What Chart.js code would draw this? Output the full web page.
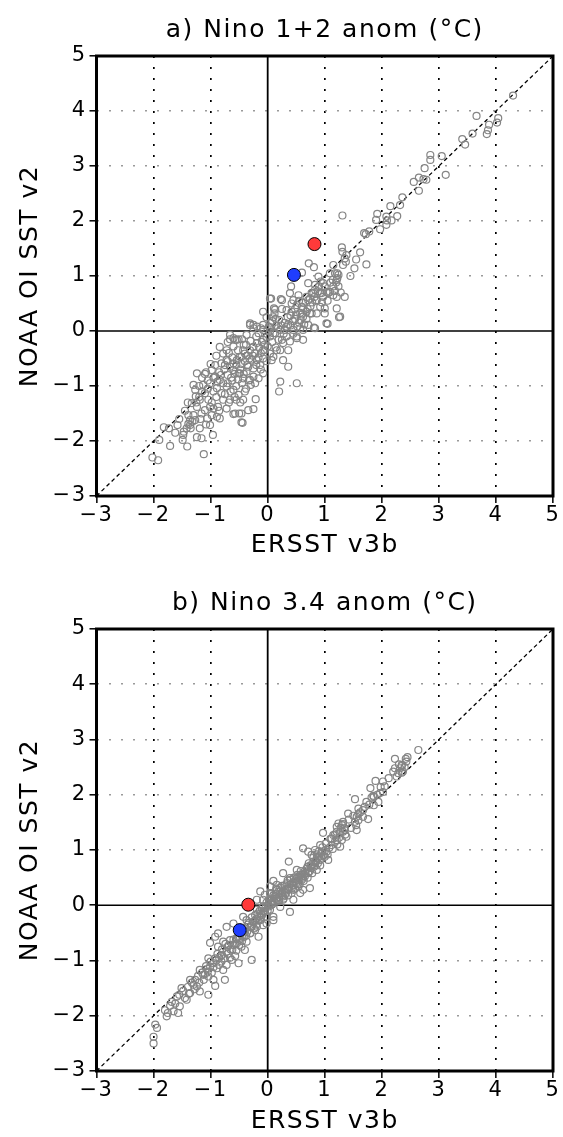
<!DOCTYPE html>
<html>
  <head>
    <title>Nino anomalies: ERSST v3b vs NOAA OI SST v2</title>
    <style>
      html, body{ margin: 0; padding: 0; background-color: #ffffff; }
      .page{ position: relative; width: 563px; height: 1137px; }
      canvas{ position: absolute; left: 0; }
    </style>
    <script src="https://cdn.jsdelivr.net/npm/chart.js"></script>
  </head>
  <body>
    <div class="page">
      <canvas id="chartA" width="563" height="573" style="top:0px"></canvas>
      <canvas id="chartB" width="563" height="564" style="top:573px"></canvas>
    </div>

    <script>
      // axis ticks (both panels)
      const tickValues = [-3, -2, -1, 0, 1, 2, 3, 4, 5];

      // a) Nino 1+2 monthly anomalies, ERSST v3b (x) vs NOAA OI SST v2 (y)
      const nino12Ersst = [
        4.30, 3.66, 4.04, 4.02, 3.88, 3.84, 3.86, 3.59, 3.41, 3.46, 2.85, 2.85, 3.05, 2.75, 3.12, 2.65, 2.73, 2.78, 2.56, 2.65,
        2.36, 2.32, 2.15, 1.92, 1.90, 2.08, 2.09, 2.08, 2.17, 2.27, 1.97, 1.31, 1.69, 1.78, 1.62, 1.73, 1.52, 1.30, 1.31, 1.38,
        1.35, 1.15, 1.32, 1.37, 0.72, 0.81, 0.60, 1.18, 1.22, 1.14, 1.20, 1.22, 0.89, 0.93, 0.83, 0.90, 1.00, 1.03, 1.18, 1.15,
        1.35, 0.80, 0.68, 1.72, 0.41, 0.39, 0.54, 0.23, 0.06, 0.45, 0.51, 0.62, -0.08, 0.13, 0.12, 0.33, 0.42, 0.57, 0.68, 0.77,
        0.86, 1.00, 1.00, 1.05, 1.21, 1.25, 1.21, 0.81, 0.36, 0.97, 1.09, 1.24, 1.06, 0.97, 0.92, 0.83, 0.77, 0.71, 0.62, 0.04,
        0.42, 0.60, 0.71, 0.74, 0.86, 0.95, 1.09, 1.15, 1.21, 1.24, 1.27, 1.03, 0.83, 0.71, 0.62, 0.74, 0.92, -0.31, -0.25, -0.08,
        -0.16, -0.54, -0.60, -0.72, -0.84, 0.04, 0.10, 0.22, 0.33, 0.45, 0.57, 0.19, 0.27, 0.39, 0.51, 0.62, 0.36, 0.22, 0.10, 0.07,
        -0.08, -0.25, -0.43, -0.49, -0.60, -0.72, -0.34, -0.19, -0.08, -0.25, -0.49, -2.02, -1.92, -1.71, -1.90, -1.82, -1.73, -1.58, -1.41, -1.49,
        -1.48, -1.47, -1.42, -1.36, -1.35, -1.39, -1.24, -1.30, -1.27, -1.26, -1.33, -1.24, -1.30, -1.39, -1.27, -1.36, -1.19, -1.24, -1.16, -1.12,
        -0.96, -1.01, -1.13, -1.10, -1.04, -1.01, -1.10, -1.19, -1.16, -1.06, -0.98, -0.89, -0.84, -0.98, -0.92, -0.84, -1.01, -0.89, -0.81, -0.72,
        -0.78, -0.87, -0.95, -0.72, -0.66, -0.60, -0.51, -0.57, -0.46, -0.43, -0.34, -0.25, -0.21, -0.46, -0.16, -0.31, -0.43, -0.51, -0.60, -0.66,
        -0.54, -0.46, -0.40, -0.31, -0.19, -0.08, 0.04, 0.13, -0.81, -0.78, -0.66, -0.37, -0.31, -0.19, -0.08, 0.04, 0.25, 0.51, 0.62, 0.22,
        0.20, 0.51, 0.27, 0.16, 0.04, -0.08, -0.13, -0.25, -0.37, -0.66, -0.57, -0.51, -0.25, 0.11, 0.25, -0.44, -0.60, -0.50, -0.70, -0.62,
        -0.55, -0.48, -0.40, -0.35, -0.28, -0.22, -0.15, -0.10, -0.05, -0.30, -0.20, -0.12, -0.42, -0.52, -0.60, -0.68, -0.75, -0.85, -0.92, -0.95,
        -1.05, -1.10, -0.78, -0.70, -0.62, -0.55, -0.45, -0.38, -0.30, -0.65, -0.58, -0.48, -0.90, -0.98, -1.15, -1.20, 0.30, 0.35, 0.20, 0.15,
        0.40, 0.48, 0.55, 0.28, 0.33, 0.45, 0.10, 0.05, -0.02, 0.60, 0.68, 0.75, 0.85, 0.55, 0.48, 0.25,
        -1.15, -1.05, -0.95, -0.88, -0.82, -0.76, -0.70, -0.64, -0.58, -0.52,
        -0.46, -0.42, -0.36, -0.32, -0.26, -0.20, -0.16, -0.12, -0.06, -0.02,
        0.02, 0.08, 0.14, 0.18, 0.24, 0.30, 0.36, 0.40, 0.44, 0.50,
        0.52, 0.58, 0.64, 0.70, 0.78, 0.82, 0.88, 0.95, 1.05, 1.10,
        1.28, 1.45, 1.55, -1.45, -1.55, -1.62, -1.40, -1.20, -1.25, -1.32,
        -1.18, -1.08, -0.85, -0.75, -0.68, -0.55, -0.40, -0.33, -0.22, -0.12,
        -0.02, 0.00, 0.08, 0.14, -0.45, -0.38, -0.70, -0.90, -1.00, -1.08
      ];
      const nino12Oi = [
        4.28, 3.91, 3.87, 3.79, 3.75, 3.58, 3.65, 3.59, 3.49, 3.39, 3.20, 3.11, 3.18, 2.96, 2.84, 2.79, 2.76, 2.75, 2.71, 2.55,
        2.43, 2.29, 2.27, 2.13, 2.02, 2.08, 2.01, 1.93, 2.01, 2.09, 1.85, 2.10, 1.78, 1.81, 1.43, 1.21, 1.14, 1.52, 1.44, 1.38,
        1.32, 1.20, 1.20, 1.26, 1.23, 1.16, 1.06, 1.05, 1.05, 0.93, 0.88, 0.96, 0.99, 0.90, 0.84, 0.81, 0.81, 0.71, 0.73, 0.65,
        0.62, 0.69, 0.62, 1.76, 0.81, 0.69, 0.65, 0.58, 0.59, 0.56, 0.47, 0.51, 0.35, 0.39, 0.32, 0.38, 0.35, 0.33, 0.35, 0.32,
        0.32, 0.41, 0.32, 0.13, 0.41, 0.25, 0.62, 0.06, -0.65, 0.87, 1.05, 0.81, 0.69, 0.62, 0.69, 0.75, 0.69, 0.56, 0.41, 0.59,
        0.50, 0.44, 0.87, 0.59, 0.56, 0.69, 0.71, 0.81, 0.93, 1.02, 0.26, 0.14, 0.05, 0.11, 0.26, 0.32, 0.44, 0.14, 0.05, 0.11,
        -0.04, -0.16, -0.13, -0.35, -0.29, 0.05, -0.04, 0.02, 0.08, 0.02, 0.05, -0.16, -0.22, -0.19, -0.13, -0.16, -0.35, -0.35, -0.47, -0.53,
        -0.35, -0.29, -0.35, -0.47, -0.59, -0.53, -0.65, -0.53, -0.77, -0.83, -0.77, -2.30, -2.35, -2.09, -1.98, -1.75, -1.77, -1.71, -2.10, -1.98,
        -1.89, -1.83, -1.77, -1.71, -1.77, -1.69, -0.77, -0.98, -1.07, -1.19, -1.31, -1.38, -1.53, -1.53, -1.62, -1.62, -1.77, -1.93, -1.95, -2.24,
        -1.89, -1.71, -0.98, -1.13, -1.25, -1.38, -1.44, -1.25, -1.50, -1.59, -1.53, -1.56, -1.59, -0.71, -0.83, -0.89, -0.95, -1.04, -1.13, -1.01,
        -1.25, -1.38, -1.41, -1.41, -1.25, -1.07, -1.16, -1.50, -1.50, -1.25, -1.44, -1.42, -1.24, -1.66, -0.86, -0.89, -0.86, -0.77, -0.71, -0.65,
        -0.53, -0.47, -0.41, -0.35, -0.22, -0.16, -0.10, -0.04, -0.59, -0.41, -0.15, -0.07, 0.11, 0.08, 0.02, -0.01, -0.16, -0.10, 0.02, -0.92,
        -1.10, -0.95, -0.53, -0.35, -0.41, -0.50, -0.62, -0.68, -0.74, -0.07, -0.16, -0.15, 0.11, 0.41, 0.56, -1.67, -1.51, -1.50, -0.55, -0.48,
        -0.62, -0.70, -0.55, -0.45, -0.52, -0.40, -0.30, -0.20, -0.35, -0.18, -0.10, 0.05, -0.25, -0.35, -0.28, -0.40, -0.62, -0.75, -0.62, -0.85,
        -0.90, -0.78, -0.95, -0.80, -0.90, -1.00, -0.95, -1.05, -0.98, -1.10, -1.20, -1.30, -1.20, -1.30, -1.10, -1.20, 0.15, 0.25, 0.20, 0.10,
        0.10, 0.22, 0.15, -0.05, -0.10, -0.05, 0.25, 0.15, 0.25, 0.30, 0.22, 0.45, 0.55, 0.55, 0.40, 0.40,
        -0.85, -1.05, -1.10, -0.92, -0.80, -0.70, -0.95, -0.85, -0.78, -0.88,
        -0.60, -0.78, -0.62, -0.50, -0.45, -0.62, -0.48, -0.40, -0.25, -0.12,
        0.08, 0.18, 0.22, 0.05, 0.10, 0.02, 0.12, 0.28, 0.18, 0.30,
        0.08, 0.20, 0.12, 0.40, 0.52, 0.62, 0.72, 0.52, 0.55, 0.88,
        0.70, 1.00, 1.30, -1.45, -1.60, -1.85, -1.30, -1.00, -1.30, -1.65,
        -1.60, -1.70, -1.45, -1.15, -1.30, -1.25, -1.10, -0.90, -0.95, -0.70,
        -0.55, -0.28, -0.20, -0.30, -0.15, -0.25, -0.20, -0.45, -0.60, -0.75
      ];
      // highlighted months: [red, blue]
      const nino12MarkX = [0.82, 0.46];
      const nino12MarkY = [1.58, 1.02];

      // b) Nino 3.4 monthly anomalies
      const nino34Ersst = [
        2.64, 2.23, 2.42, 2.35, 2.32, 2.23, 2.29, 2.26, 2.35, 1.89, 2.02, 1.80, 1.85, 1.97, 2.02, 1.94, 1.53, 1.73, 1.67, 1.59,
        1.56, 1.76, 1.41, 1.32, 1.24, 1.21, 1.32, 1.35, 1.27, 1.53, 1.59, 1.56, 1.12, 1.18, 1.30, 1.27, 2.35, 2.43, 2.37, 1.98,
        1.86, 1.86, 1.59, 1.67, 1.30, 1.35, 1.55, 1.21, 1.32, 1.38, 0.97, 1.15, 1.21, 1.12, 0.92, 1.03, 0.83, 0.62, 0.71, 0.77,
        0.86, 0.92, 1.00, 1.06, 0.83, 0.77, 0.86, 0.71, 0.65, 0.57, 0.51, 0.37, 0.27, 0.39, 0.48, 0.60, 0.54, 0.62, 0.74, 0.45,
        0.36, 0.25, 0.10, 0.16, 0.22, 0.04, 0.13, 0.19, -0.05, -0.08, -0.13, 0.07, 0.27, 0.39, 0.04, -0.02, 0.10, -0.13, -0.08, -0.19,
        0.04, 0.16, 0.27, 0.45, 0.57, 0.22, 0.10, -0.02, -0.22, -0.16, -0.31, -0.37, -0.46, -0.54, -0.66, -0.78, -0.92, -1.01, -0.87, -0.72,
        -0.57, -0.51, -0.28, -0.40, -0.63, -0.81, -0.92, -1.04, -1.01, -0.89, -0.78, -0.72, -1.19, -1.13, -1.04, -0.95, -0.75, -0.92, -1.04, -1.24,
        -1.30, -1.19, -1.36, -1.42, -1.51, -1.59, -1.54, -1.71, -1.65, -1.57, -1.77, -1.97, -1.94, -2.00, -2.00, -1.36, -1.27, -0.08, -0.19, -0.43,
        -0.60, -0.72, -0.87, -0.37, 0.07, -0.19, -0.30, -0.25, -0.20, -0.15, -0.10, -0.05, 0.00, 0.05, 0.10, 0.15, 0.20, 0.25, 0.30, 0.35,
        0.40, 0.45, 0.50, 0.55, 0.60, 0.65, 0.70, 0.75, 0.80, 0.85, 0.90, 0.95, -0.35, -0.45, -0.55, -0.60, -0.65, -0.70, -0.80, -0.85,
        -0.95, -1.05, -1.10, -0.50, -0.40, 0.30, 0.42, 0.52, 0.62, 0.72, 0.35, 0.15, 0.05, -0.12, -0.22, -0.28,
        -1.80, -1.75, -1.68, -1.62, -1.55, -1.48, -1.45, -1.40, -1.38, -1.33,
        -1.28, -1.22, -1.20, -1.15, -1.12, -1.08, -1.05, -1.00, -0.98, -0.95,
        -0.90, -0.88, -0.85, -0.82, -0.80, -0.76, -0.74, -0.70, -0.68, -0.66,
        -0.62, -0.60, -0.58, -0.55, -0.52, -0.50, -0.47, -0.45, -0.42, -0.40,
        -0.38, -0.36, -0.33, -0.30, -0.28, -0.26, -0.24, -0.22, -0.20, -0.18,
        -0.16, -0.14, -0.12, -0.10, -0.08, -0.06, -0.04, -0.02, 0.00, 0.02,
        0.03, 0.06, 0.08, 0.10, 0.12, 0.14, 0.16, 0.18, 0.20, 0.22,
        0.24, 0.26, 0.28, 0.30, 0.32, 0.34, 0.36, 0.38, 0.40, 0.42,
        0.44, 0.46, 0.48, 0.50, 0.52, 0.54, 0.56, 0.58, 0.60, 0.63,
        0.66, 0.68, 0.70, 0.72, 0.74, 0.76, 0.78, 0.80, 0.82, 0.84,
        0.86, 0.88, 0.90, 0.92, 0.94, 0.96, 0.98, 1.00, 1.02, 1.05,
        1.08, 1.10, 1.14, 1.18, 1.22, 1.25, 1.28, 1.36, 1.42, 1.46,
        1.50, 1.62, 1.70, 1.78, 1.82, 1.92, 2.05, 2.12, 2.20, 2.30,
        2.40, 2.45
      ];
      const nino34Oi = [
        2.81, 2.65, 2.65, 2.52, 2.48, 2.48, 2.39, 2.33, 2.40, 2.25, 2.24, 2.12, 1.98, 2.03, 2.05, 1.87, 1.92, 1.87, 1.72, 1.75,
        1.60, 1.56, 1.66, 1.51, 1.48, 1.42, 1.47, 1.36, 1.33, 1.51, 1.54, 1.36, 1.21, 1.15, 1.18, 1.06, 2.54, 2.60, 2.42, 2.14,
        1.96, 1.81, 1.65, 1.60, 1.45, 1.39, 1.45, 1.33, 1.33, 1.24, 1.31, 1.27, 1.18, 1.09, 1.09, 0.97, 1.00, 1.03, 0.97, 0.91,
        0.85, 0.82, 0.88, 0.82, 0.73, 0.67, 0.64, 0.58, 0.52, 0.55, 0.64, 0.79, 0.58, 0.49, 0.43, 0.46, 0.34, 0.28, 0.31, 0.28,
        0.28, 0.35, 0.44, 0.37, 0.25, 0.22, 0.16, 0.07, 0.19, 0.10, 0.25, 0.04, 0.10, -0.12, -0.08, -0.21, -0.27, -0.27, -0.36, -0.39,
        0.34, 0.28, 0.16, 0.10, 0.22, -0.03, -0.21, -0.33, -0.45, -0.57, -0.51, -0.66, -0.75, -0.69, -0.63, -0.66, -0.57, -0.68, -0.75, -0.84,
        -0.92, -1.05, -0.99, -0.81, -0.99, -1.02, -0.96, -0.96, -1.11, -1.14, -1.17, -1.08, -1.17, -1.26, -1.29, -1.35, -1.35, -1.46, -1.62, -1.47,
        -1.44, -1.56, -1.59, -1.71, -1.50, -1.65, -1.83, -1.82, -1.92, -1.95, -2.01, -2.16, -2.22, -2.38, -2.50, -1.35, -1.35, -0.14, -0.08, -0.21,
        -0.33, -0.39, -0.51, -0.27, 0.01, 0.10, -0.40, -0.30, -0.25, -0.20, -0.05, -0.10, 0.00, 0.05, 0.08, 0.12, 0.15, 0.22, 0.28, 0.30,
        0.38, 0.42, 0.48, 0.50, 0.55, 0.62, 0.70, 0.72, 0.78, 0.80, 0.88, 0.95, -0.35, -0.55, -0.60, -0.72, -0.80, -0.75, -0.90, -0.95,
        -1.05, -1.15, -1.25, -0.62, -0.48, 0.18, 0.30, 0.38, 0.50, 0.60, 0.45, 0.30, 0.20, -0.15, -0.18, -0.22,
        -1.90, -1.95, -1.75, -1.78, -1.62, -1.55, -1.68, -1.48, -1.60, -1.40,
        -1.52, -1.28, -1.40, -1.22, -1.35, -1.10, -1.20, -1.02, -1.22, -1.12,
        -1.00, -0.88, -1.08, -0.92, -0.80, -0.96, -0.70, -0.88, -0.72, -0.95,
        -0.80, -0.62, -0.70, -0.82, -0.58, -0.72, -0.52, -0.65, -0.58, -0.42,
        -0.55, -0.48, -0.32, -0.50, -0.38, -0.30, -0.42, -0.28, -0.35, -0.15,
        -0.28, -0.10, -0.22, -0.18, -0.02, -0.12, -0.05, 0.05, -0.10, 0.10,
        -0.02, 0.12, 0.02, 0.18, 0.06, 0.20, 0.10, 0.24, 0.08, 0.32,
        0.18, 0.25, 0.12, 0.36, 0.22, 0.40, 0.18, 0.32, 0.46, 0.22,
        0.36, 0.50, 0.30, 0.40, 0.55, 0.45, 0.38, 0.62, 0.52, 0.44,
        0.58, 0.66, 0.50, 0.76, 0.62, 0.70, 0.58, 0.86, 0.70, 0.78,
        0.92, 0.76, 0.98, 0.72, 0.86, 1.05, 0.90, 0.98, 1.12, 0.92,
        1.04, 1.20, 1.02, 1.28, 1.10, 1.22, 1.40, 1.28, 1.55, 1.40,
        1.62, 1.68, 1.78, 1.82, 1.95, 2.00, 2.15, 2.30, 2.42, 2.55,
        2.50, 2.68
      ];
      const nino34MarkX = [-0.34, -0.49];
      const nino34MarkY = [0.01, -0.45];

      const markColors = ['#ff3a3a', '#1f3dff'];
      const fontFamily = '"DejaVu Sans", sans-serif';

      function toPoints(xs, ys) {
        return xs.map((x, i) => ({ x: x, y: ys[i] }));
      }

      // thick frame round the plot area; loose letter spacing like the original plot font
      const framePlugin = {
        id: 'frame',
        beforeDraw(chart) {
          chart.ctx.letterSpacing = '1.5px';
        },
        afterDraw(chart) {
          const a = chart.chartArea;
          const ctx = chart.ctx;
          ctx.save();
          ctx.strokeStyle = '#000';
          ctx.lineWidth = 3;
          ctx.strokeRect(a.left, a.top, a.right - a.left, a.bottom - a.top);
          ctx.restore();
        }
      };

      function minus(v) {
        return v < 0 ? '\u2212' + Math.abs(v) : String(v);
      }

      function makeChart(id, title, xs, ys, mx, my, xBoxHeight, xTitlePad) {
        const lo = tickValues[0], hi = tickValues[tickValues.length - 1];
        const datasets = [];
        mx.forEach((x, i) => {
          datasets.push({
            data: [{ x: x, y: my[i] }],
            backgroundColor: markColors[i],
            borderColor: '#000',
            borderWidth: 1,
            pointRadius: 6.5,
            order: 0
          });
        });
        datasets.push({
          data: toPoints(xs, ys),
          backgroundColor: 'rgba(0,0,0,0)',
          borderColor: '#858585',
          borderWidth: 1.2,
          pointRadius: 3.5,
          order: 1
        });
        // 1:1 line
        datasets.push({
          data: [{ x: lo, y: lo }, { x: hi, y: hi }],
          showLine: true, pointRadius: 0,
          borderColor: '#000', borderWidth: 1.3, borderDash: [4, 3],
          order: 2
        });
        // zero lines
        datasets.push({
          data: [{ x: 0, y: lo }, { x: 0, y: hi }],
          showLine: true, pointRadius: 0, borderColor: '#000', borderWidth: 1.8, order: 3
        });
        datasets.push({
          data: [{ x: lo, y: 0 }, { x: hi, y: 0 }],
          showLine: true, pointRadius: 0, borderColor: '#000', borderWidth: 1.5, order: 3
        });

        return new Chart(document.getElementById(id), {
          type: 'scatter',
          data: { datasets: datasets },
          plugins: [framePlugin],
          options: {
            responsive: false,
            animation: false,
            events: [],
            layout: { padding: { left: 0, right: 10, top: 0, bottom: 0 } },
            plugins: {
              legend: { display: false },
              tooltip: { enabled: false },
              title: {
                display: true,
                fullSize: false,
                text: title,
                color: '#000',
                font: { family: fontFamily, size: 25, weight: 'normal' },
                padding: { top: 15, bottom: 11 }
              }
            },
            scales: {
              x: {
                type: 'linear', min: lo, max: hi,
                afterBuildTicks: (s) => { s.ticks = tickValues.map(v => ({ value: v })); },
                afterFit: (s) => { s.height = xBoxHeight; },
                ticks: {
                  color: '#000', padding: 0, maxRotation: 0, autoSkip: false,
                  font: { family: fontFamily, size: 21 },
                  callback: (v) => minus(v)
                },
                grid: {
                  color: (c) => (c.tick && [lo, 0, hi].includes(c.tick.value)) ? 'rgba(0,0,0,0)' : '#000',
                  lineWidth: 1.7,
                  tickColor: '#000', tickLength: 7, tickWidth: 1.5
                },
                border: { display: false, dash: [2, 9] },
                title: {
                  display: true, text: 'ERSST v3b', color: '#000',
                  font: { family: fontFamily, size: 25 },
                  padding: { top: 0, bottom: xTitlePad }
                }
              },
              y: {
                type: 'linear', min: lo, max: hi,
                afterBuildTicks: (s) => { s.ticks = tickValues.map(v => ({ value: v })); },
                afterFit: (s) => { s.width = 96.5; },
                ticks: {
                  color: '#000', padding: 3,
                  font: { family: fontFamily, size: 21 },
                  callback: (v) => minus(v)
                },
                grid: {
                  color: (c) => (c.tick && [lo, 0, hi].includes(c.tick.value)) ? 'rgba(0,0,0,0)' : '#9a9a9a',
                  lineWidth: 1.6,
                  tickColor: '#000', tickLength: 7, tickWidth: 1.5
                },
                border: { display: false, dash: [2, 10] },
                title: {
                  display: true, text: 'NOAA OI SST v2', color: '#000',
                  font: { family: fontFamily, size: 25 },
                  padding: { top: 15, bottom: 0 }
                }
              }
            }
          }
        });
      }

      makeChart('chartA', 'a) Nino 1+2 anom (\u00B0C)', nino12Ersst, nino12Oi, nino12MarkX, nino12MarkY, 77, 13);
      makeChart('chartB', 'b) Nino 3.4 anom (\u00B0C)', nino34Ersst, nino34Oi, nino34MarkX, nino34MarkY, 66, 1);
    </script>
  </body>
</html>
